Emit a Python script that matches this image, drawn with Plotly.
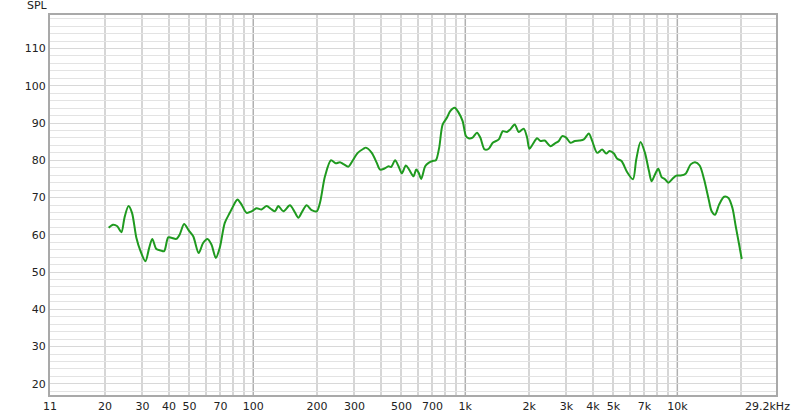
import plotly.graph_objects as go

# Frequency (Hz) and SPL (dB)
freq_hz = [
    20.8, 21.8, 22.85, 23.9, 24.7, 25.8, 26.8, 28.1, 29.4, 31.0, 32.3, 33.4, 34.9, 36.6, 38.0,
    39.7, 41.1, 43.4, 45.0, 47.2, 49.6, 52.1, 55.3, 58.0, 60.8, 63.5, 66.6, 69.5, 73.4, 77.5,
    82.8, 84.3, 88.1, 93.0, 98.2, 103.7, 109.4, 115.6, 122.0, 126.5, 131.3, 138.6, 148.9, 156.2,
    163.2, 170.4, 178.6, 188.6, 199.2, 206.4, 217.9, 232.6, 244.8, 256.5, 266.2, 281.1, 293.6,
    311.1, 331.0, 339.4, 362.2, 382.5, 396.5, 415.9, 434.3, 446.8, 466.7, 484.3, 501.9, 524.2,
    543.4, 570.2, 586.6, 602.1, 619.4, 647.0, 671.3, 701.2, 726.8, 753.4, 781.6, 819.0, 848.9,
    890.8, 930.4, 971.6, 1007, 1037, 1083, 1135, 1177, 1234, 1290, 1347, 1438, 1502, 1573, 1631,
    1711, 1787, 1886, 1956, 2006, 2080, 2181, 2260, 2371, 2520, 2644, 2762, 2863, 2990, 3133,
    3287, 3455, 3624, 3826, 3966, 4188, 4423, 4620, 4788, 5022, 5206, 5455, 5804, 6177, 6402,
    6708, 7037, 7350, 7561, 7845, 8132, 8429, 8747, 9069, 9471, 9892, 10366, 10944, 11557,
    12122, 12745, 13370, 14010, 14522, 15068, 15740, 16621, 17418, 18193, 18857, 19565, 20127,
]
spl_db = [
    61.9, 62.7, 62.3, 60.7, 64.6, 67.7, 65.9, 59.2, 55.6, 52.9, 56.5, 58.9, 56.2, 55.8, 55.6,
    59.3, 59.2, 58.9, 60.1, 62.9, 61.2, 59.6, 55.1, 57.8, 58.9, 57.4, 53.8, 56.5, 63.2, 65.9,
    69.0, 69.5, 68.1, 65.9, 66.3, 67.1, 66.8, 67.7, 66.8, 66.3, 67.7, 66.3, 67.9, 66.3,
    64.6, 66.3, 67.9, 66.6, 66.3, 68.6, 75.7, 80.0, 79.2, 79.5, 79.0, 78.3, 79.8,
    82.0, 83.1, 83.4, 82.0, 79.3, 77.5, 77.8, 78.4, 78.2, 80.0, 78.4, 76.5, 78.6,
    77.5, 75.7, 77.5, 76.7, 75.0, 78.4, 79.3, 79.8, 80.0, 83.4, 89.6, 91.4, 93.2,
    94.1, 92.8, 90.5, 86.5, 85.9, 86.1, 87.4, 86.1, 82.9, 83.1, 84.7, 85.6, 87.8, 87.6, 88.3,
    89.6, 87.6, 88.5, 86.1, 83.1, 84.3, 85.9, 85.2, 85.3, 83.8, 84.5, 85.2, 86.5, 86.1, 84.7,
    85.2, 85.3, 85.6, 87.2, 85.2, 82.0, 82.9, 81.8, 82.5, 81.8, 80.4, 79.8, 76.8, 74.9, 80.2,
    84.9, 82.0, 77.1, 74.4, 76.2, 77.7, 75.5, 74.9, 74.0, 75.0, 75.9, 75.9, 76.4, 78.9,
    79.5, 78.6, 74.9, 69.9, 66.3, 65.4, 68.1, 70.2, 69.9, 67.2, 62.3, 57.4, 53.5,
]

x_tick_vals = [11, 20, 30, 40, 50, 70, 100, 200, 300, 500, 700, 1000, 2000, 3000, 4000, 5000, 7000, 10000]
x_tick_text = ["11", "20", "30", "40", "50", "70", "100", "200", "300", "500", "700", "1k",
               "2k", "3k", "4k", "5k", "7k", "10k"]
x_grid_vals = [20, 30, 40, 50, 60, 70, 80, 90, 200, 300, 400, 500, 600, 700, 800, 900,
               2000, 3000, 4000, 5000, 6000, 7000, 8000, 9000, 20000]
decade_vals = [100, 1000, 10000]
y_tick_vals = [20, 30, 40, 50, 60, 70, 80, 90, 100, 110]

font_family = "DejaVu Sans"

fig = go.Figure()
fig.add_trace(go.Scatter(
    x=freq_hz, y=spl_db, mode="lines",
    line=dict(color="#1f9a1f", width=2, shape="spline", smoothing=0.8),
    showlegend=False, hoverinfo="skip",
))

for d in decade_vals:
    fig.add_shape(type="line", xref="x", yref="paper", x0=d, x1=d, y0=0, y1=1,
                  line=dict(color="#b0b0b0", width=1.5), layer="below")

fig.update_layout(
    width=800, height=418,
    margin=dict(l=50, r=24, t=15, b=23),
    paper_bgcolor="white", plot_bgcolor="white",
    font=dict(family=font_family, size=11, color="#222222"),
    xaxis=dict(
        type="log", range=[1.0414, 4.4654], automargin=False,
        tickmode="array", tickvals=x_tick_vals, ticktext=x_tick_text,
        showgrid=False, zeroline=False, ticks="",
        showline=True, linecolor="#a9a9a9", linewidth=2, mirror=True,
        minor=dict(tickmode="array", tickvals=x_grid_vals, showgrid=True,
                   gridcolor="#d6d6d6", gridwidth=1.5, ticks=""),
        tickfont=dict(family=font_family, size=11, color="#222222"),
    ),
    yaxis=dict(
        range=[17, 119], tickmode="array", tickvals=y_tick_vals, automargin=False,
        showgrid=True, gridcolor="#d8d8d8", gridwidth=1.2, zeroline=False, ticks="",
        minor=dict(dtick=2, tick0=0, showgrid=True, gridcolor="#e3e3e3", gridwidth=1, ticks=""),
        showline=True, linecolor="#a9a9a9", linewidth=2, mirror=True,
        tickfont=dict(family=font_family, size=11, color="#222222"),
    ),
    annotations=[
        dict(text="SPL", xref="paper", yref="paper", x=-0.017, y=1.0, yanchor="bottom",
             xanchor="center", showarrow=False, yshift=1,
             font=dict(family=font_family, size=11, color="#222222")),
        dict(text="29.2kHz", xref="paper", yref="paper", x=1.0, y=0, yanchor="top",
             xanchor="right", xshift=16, yshift=-3, showarrow=False,
             font=dict(family=font_family, size=11, color="#222222")),
    ],
)

fig.write_html(
    "out.html",
    config={"displayModeBar": False},
    post_script="document.body.style.margin='0';document.body.style.overflow='hidden';",
)
